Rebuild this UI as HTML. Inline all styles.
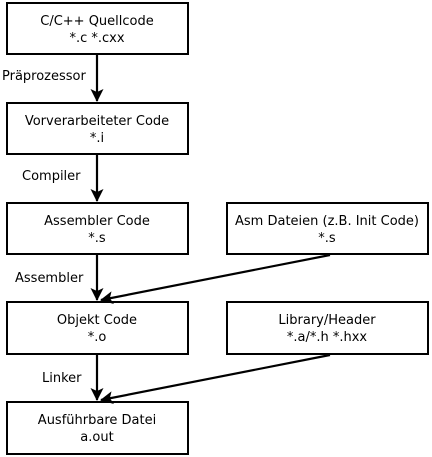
<!DOCTYPE html>
<html><head><style>html,body{margin:0;padding:0;background:#fff}svg{display:block}text{font-family:"DejaVu Sans",sans-serif;font-size:13px}</style></head>
<body>
<svg width="432" height="457" xmlns="http://www.w3.org/2000/svg" text-anchor="middle">
<defs>
<marker id="b" markerWidth="13" markerHeight="13" refX="12" refY="6.5" orient="auto" markerUnits="userSpaceOnUse"><path d="M0,0 L13,6.5 L0,13 L3,6.5 Z" fill="#000"/></marker></defs>
<g fill="#fff" stroke="#000" stroke-width="2">
<rect x="7" y="3" width="181" height="51"/>
<rect x="7" y="103" width="181" height="51"/>
<rect x="7" y="203" width="181" height="51"/>
<rect x="227" y="203" width="201" height="51"/>
<rect x="7" y="302" width="181" height="52"/>
<rect x="227" y="302" width="201" height="52"/>
<rect x="7" y="402" width="181" height="52"/>
</g>
<g stroke="#000" stroke-width="2.2" fill="none">
<line x1="97" y1="55" x2="97" y2="101" marker-end="url(#b)"/>
<line x1="97" y1="155" x2="97" y2="201" marker-end="url(#b)"/>
<line x1="97" y1="255" x2="97" y2="300" marker-end="url(#b)"/>
<line x1="97" y1="355" x2="97" y2="400" marker-end="url(#b)"/>
<line x1="330" y1="255" x2="101" y2="300" marker-end="url(#b)"/>
<line x1="330" y1="355" x2="101" y2="400" marker-end="url(#b)"/>
</g>
<g fill="#000">
<text x="97" y="25">C/C++ Quellcode</text><text x="97" y="42">*.c *.cxx</text>
<text x="97" y="125">Vorverarbeiteter Code</text><text x="97" y="142">*.i</text>
<text x="97" y="225">Assembler Code</text><text x="97" y="242">*.s</text>
<text x="327" y="225">Asm Dateien (z.B. Init Code)</text><text x="327" y="242">*.s</text>
<text x="97" y="324">Objekt Code</text><text x="97" y="341">*.o</text>
<text x="327" y="324">Library/Header</text><text x="327" y="341">*.a/*.h *.hxx</text>
<text x="97" y="424">Ausführbare Datei</text><text x="97" y="441">a.out</text>
<g text-anchor="start">
<text x="2" y="80">Präprozessor</text>
<text x="22" y="180">Compiler</text>
<text x="15" y="282">Assembler</text>
<text x="42" y="382">Linker</text>
</g></g>
</svg>
</body></html>
